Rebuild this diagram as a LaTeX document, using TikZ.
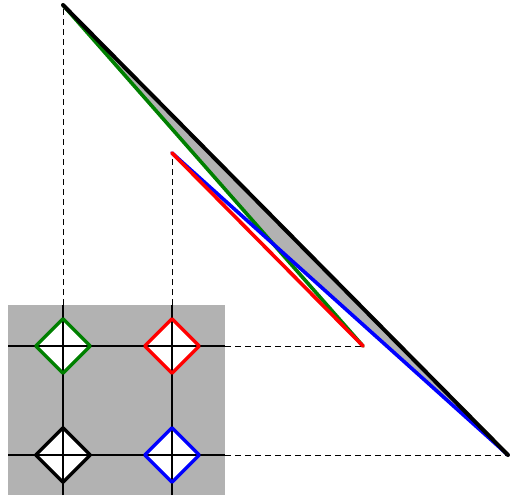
\documentclass[tikz,border=0pt]{standalone}
\usetikzlibrary{shapes.geometric, intersections}
\definecolor{cgreen}{HTML}{008000}
\tikzset{
  every picture/.style={line join=round},
  dmark/.style={diamond, fill=white, inner sep=0pt, minimum width=54pt, minimum height=54pt},
  rim/.style={draw=#1, line width=3.4pt},
  grid line/.style={line width=1.5pt},
  guide/.style={dashed, dash pattern=on 6pt off 4pt, line width=1pt},
  seg/.style={draw=#1, line width=3.6pt, line cap=round},
}
\begin{document}
\begin{tikzpicture}[x=1pt, y=-1pt]
  \useasboundingbox (0,0) rectangle (510,502);
  % the gray cell and its four marks
  \coordinate (sw) at (8,495);
  \coordinate (ne) at (225,305);
  \fill[black!30] (sw) rectangle (ne);
  \node[dmark] (g) at (63,346) {};
  \node[dmark] (r) at (172,346) {};
  \node[dmark] (k) at (63,455) {};
  \node[dmark] (b) at (172,455) {};
  \foreach \n in {k,b} \draw[grid line] (sw -| \n) -- (ne -| \n);
  \foreach \n in {g,k} \draw[grid line] (sw |- \n) -- (ne |- \n);
  \foreach \n/\c in {g/cgreen, r/red, k/black, b/blue}
    \draw[rim=\c] (\n.north) -- (\n.east) -- (\n.south) -- (\n.west) -- cycle;
  % end points of the segments
  \coordinate (A) at (63,5);
  \coordinate (B) at (172,153);
  \coordinate (C) at (363,346);
  \coordinate (D) at (508,455);
  \draw[guide] (ne -| g) -- (A);
  \draw[guide] (ne -| r) -- (B);
  \draw[guide] (ne |- r) -- (C);
  \draw[guide] (ne |- b) -- (D);
  \path[name path=ac] (A) -- (C);
  \path[name path=bd] (B) -- (D);
  \path[name intersections={of=ac and bd, by=P}];
  \fill[black!30] (A) -- (D) -- (P) -- cycle;
  \draw[seg=cgreen] (A) -- (C);
  \draw[seg=blue] (B) -- (D);
  \draw[seg=red] (B) -- (C);
  \draw[seg=black, line width=4pt] (A) -- (D);
\end{tikzpicture}
\end{document}
